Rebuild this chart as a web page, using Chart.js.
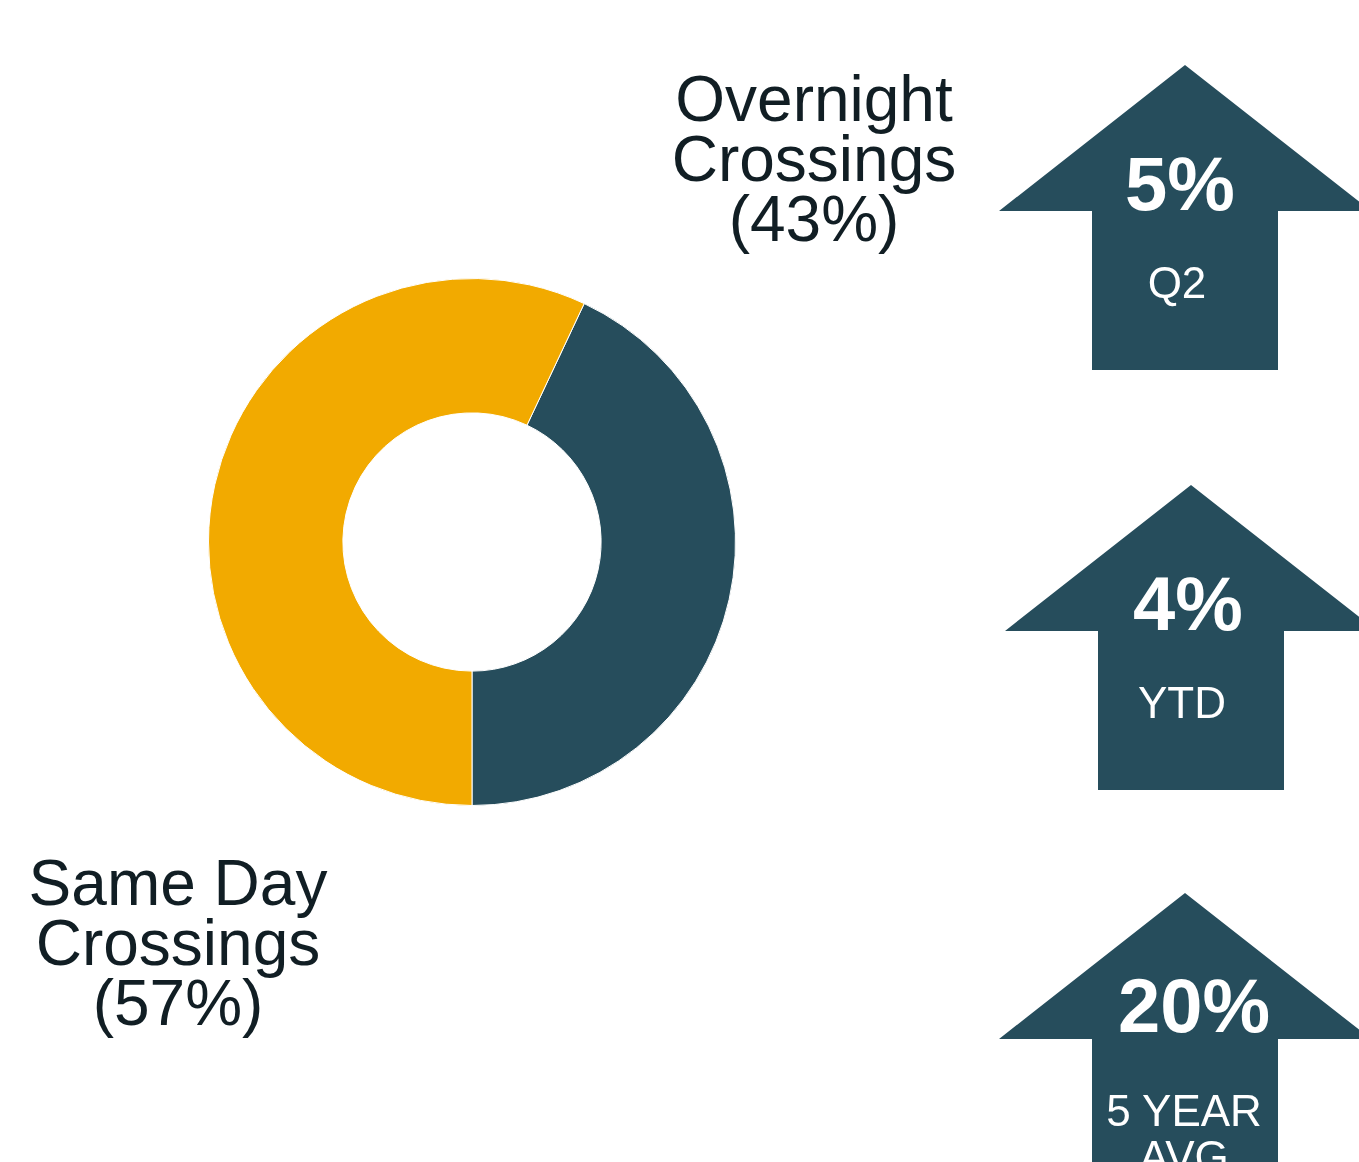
<!DOCTYPE html>
<html>
<head>
<meta charset="utf-8">
<script src="https://cdn.jsdelivr.net/npm/chart.js@4/dist/chart.umd.min.js"></script>
<style>
  html, body {
    margin: 0;
    padding: 0;
    background: #ffffff;
    overflow: hidden;
  }
  #page {
    position: relative;
    width: 1359px;
    height: 1162px;
    overflow: hidden;
  }
  #donutBox {
    position: absolute;
    left: 208px;
    top: 278px;
    width: 528px;
    height: 528px;
  }
  .slice-label {
    position: absolute;
    width: 400px;
    text-align: center;
    font-family: "Liberation Sans", Arial, sans-serif;
    font-size: 64px;
    line-height: 60px;
    color: #111e24;
    white-space: nowrap;
  }
  #arrows {
    position: absolute;
    left: 0;
    top: 0;
  }
</style>
</head>
<body>
<div id="page">
  <div id="donutBox"><canvas id="crossingsChart"></canvas></div>
  <div class="slice-label" id="label0" style="left: 614px; top: 69px;"></div>
  <div class="slice-label" id="label1" style="left: -22px; top: 853px;"></div>
  <svg id="arrows" width="1359" height="1162" xmlns="http://www.w3.org/2000/svg"></svg>
</div>
<script>
  const segmentLabels = ["Overnight Crossings", "Same Day Crossings"];
  const segmentLabelLines = [["Overnight", "Crossings"], ["Same Day", "Crossings"]];
  const segmentValues = [43, 57];
  const segmentColors = ["#264d5c", "#f2aa00"];

  const changeValues = ["5%", "4%", "20%"];
  const changePeriods = [["Q2"], ["YTD"], ["5 YEAR", "AVG"]];

  // arrow tip positions on the page, plus small text nudges
  const ARROW_TIPS = [
    { x: 1185, y: 65 },
    { x: 1191, y: 485 },
    { x: 1185, y: 893 }
  ];
  const VALUE_DX = [-5, -3, 9];
  const VALUE_DY = [145, 145, 139];
  const PERIOD_DX = [-8, -9, -1];
  const ARROW_COLOR = "#264d5c";

  function fillSliceLabels() {
    segmentLabelLines.forEach((lines, index) => {
      const el = document.getElementById("label" + index);
      const all = lines.concat(["(" + segmentValues[index] + "%)"]);
      el.innerHTML = all.join("<br>");
    });
  }

  function drawArrows() {
    const svg = document.getElementById("arrows");
    const ns = "http://www.w3.org/2000/svg";

    ARROW_TIPS.forEach((tip, index) => {
      const cx = tip.x;
      const ty = tip.y;
      const pts = [
        [cx, ty],
        [cx + 186, ty + 146],
        [cx + 93, ty + 146],
        [cx + 93, ty + 305],
        [cx - 93, ty + 305],
        [cx - 93, ty + 146],
        [cx - 186, ty + 146]
      ];
      const poly = document.createElementNS(ns, "polygon");
      poly.setAttribute("points", pts.map(p => p.join(",")).join(" "));
      poly.setAttribute("fill", ARROW_COLOR);
      svg.appendChild(poly);

      const value = document.createElementNS(ns, "text");
      value.setAttribute("x", cx + VALUE_DX[index]);
      value.setAttribute("y", ty + VALUE_DY[index]);
      value.setAttribute("text-anchor", "middle");
      value.setAttribute("fill", "#ffffff");
      value.setAttribute("font-family", "Liberation Sans, Arial, sans-serif");
      value.setAttribute("font-weight", "700");
      value.setAttribute("font-size", "76");
      value.textContent = changeValues[index];
      svg.appendChild(value);

      changePeriods[index].forEach((line, lineIndex) => {
        const period = document.createElementNS(ns, "text");
        period.setAttribute("x", cx + PERIOD_DX[index]);
        period.setAttribute("y", ty + 233 + lineIndex * 46);
        period.setAttribute("text-anchor", "middle");
        period.setAttribute("fill", "#ffffff");
        period.setAttribute("font-family", "Liberation Sans, Arial, sans-serif");
        period.setAttribute("font-weight", "400");
        period.setAttribute("font-size", "44");
        period.textContent = line;
        svg.appendChild(period);
      });
    });
  }

  function renderDonut() {
    const ctx = document.getElementById("crossingsChart").getContext("2d");

    new Chart(ctx, {
      type: "doughnut",
      data: {
        labels: segmentLabels,
        datasets: [
          {
            data: segmentValues,
            backgroundColor: segmentColors,
            borderColor: "#ffffff",
            borderWidth: 1
          }
        ]
      },
      options: {
        responsive: true,
        maintainAspectRatio: false,
        animation: false,
        rotation: 25.2,
        cutout: "49%",
        layout: {
          padding: 0
        },
        plugins: {
          legend: { display: false },
          tooltip: { enabled: false }
        }
      }
    });
  }

  fillSliceLabels();
  drawArrows();
  renderDonut();
</script>
</body>
</html>
